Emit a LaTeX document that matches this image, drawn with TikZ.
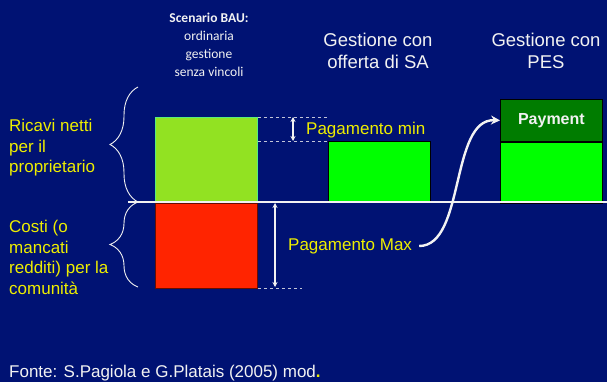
\documentclass[tikz,border=0pt]{standalone}
\usepackage{fontspec}
\setmainfont{Liberation Sans}
\newfontfamily\calibri{Carlito}
\usetikzlibrary{positioning,arrows.meta,decorations.pathreplacing}
\definecolor{fondo}{RGB}{0,18,115}
\definecolor{giallo}{RGB}{238,238,0}
\definecolor{bianco}{RGB}{242,242,242}
\definecolor{verdechiaro}{RGB}{146,226,34}
\definecolor{verde}{RGB}{0,255,0}
\definecolor{verdescuro}{RGB}{0,124,0}
\definecolor{rosso}{RGB}{255,36,0}
\begin{document}
\begin{tikzpicture}[x=1pt,y=-1pt,
  box/.style={draw=black,line width=0.8pt,inner sep=0pt,minimum width=102pt},
  lab/.style={text=giallo,font=\fontsize{17}{20.5}\selectfont,align=left,inner sep=0pt},
  head/.style={text=bianco,font=\fontsize{18.5}{22}\selectfont,align=center,inner sep=0pt},
  tratto/.style={bianco!80!fondo,dashed,line width=0.8pt},
  freccia/.style={bianco,line width=1.2pt,{Stealth[length=5pt,width=5pt]}-{Stealth[length=5pt,width=5pt]}},
  graffa/.style={bianco,line width=0.9pt,decorate,decoration={brace,amplitude=28pt}}]
\fill[fondo](0,0)rectangle(607,382);
\useasboundingbox(0,0)rectangle(607,382);
\node[text=bianco,inner sep=0pt,align=center,font=\calibri\fontsize{13.5}{18}\selectfont](bau)at(209,44.5){{\bfseries Scenario BAU:}\\ordinaria\\gestione\\senza vincoli};
\node[head](offerta)at(378,51){Gestione con\\offerta di SA};
\node[head](pes)at(546,51){Gestione con\\PES};
\node[box,fill=verdechiaro,draw=verdechiaro!60!cyan,minimum height=85pt,anchor=north west](ricavi)at(155,117){};
\node[box,fill=rosso,draw=rosso!40!black,minimum height=85pt,below=0pt of ricavi](costi){};
\node[box,fill=verde,minimum height=61pt,anchor=north west](sa)at(328,141){};
\node[box,fill=verdescuro,minimum height=42pt,anchor=north west,text=bianco,font=\bfseries\fontsize{16}{16}\selectfont](payment)at(500,99){Payment};
\node[box,fill=verde,minimum height=61pt,below=0pt of payment](pesbox){};
\coordinate(asse0)at(128,202);
\coordinate(asse1)at(607,202);
\draw[bianco,line width=2.5pt](asse0)--(asse1);
\draw[tratto](ricavi.north east)--++(69,0)coordinate(mintop);
\draw[tratto](ricavi.east|-sa.north)--(sa.north west);
\draw[tratto](costi.south east)--++(44,0)coordinate(maxbot);
\coordinate(a1)at(293,117);
\coordinate(a2)at(293,141);
\draw[freccia](a1)--(a2);
\coordinate(b1)at(275,203);
\coordinate(b2)at(275,287);
\draw[freccia](b1)--(b2);
\node[lab,anchor=west](min)at(306,130){Pagamento min};
\node[lab,anchor=west](max)at(288,246){Pagamento Max};
\draw[bianco,line width=2.4pt,-{Stealth[length=9pt,width=9pt]}]([xshift=7pt]max.east)..controls +(46,0) and +(-50,-2)..(payment.west);
\coordinate(g1)at(138,202);
\coordinate(g2)at(138,87);
\coordinate(g3)at(138,287);
\draw[graffa](g1)--(g2);
\draw[graffa](g3)--(g1);
\node[lab,anchor=west](ricavilab)at(9,148){Ricavi netti\\per il\\proprietario};
\node[lab,anchor=west](costilab)at(9,257.5){Costi (o\\mancati\\redditi) per la\\comunità};
\node[text=bianco,inner sep=0pt,anchor=west,font=\fontsize{17}{20}\selectfont](fonte)at(9,373){Fonte: S.Pagiola e G.Platais (2005) mod\textcolor{giallo}{\bfseries.}};
\end{tikzpicture}
\end{document}
